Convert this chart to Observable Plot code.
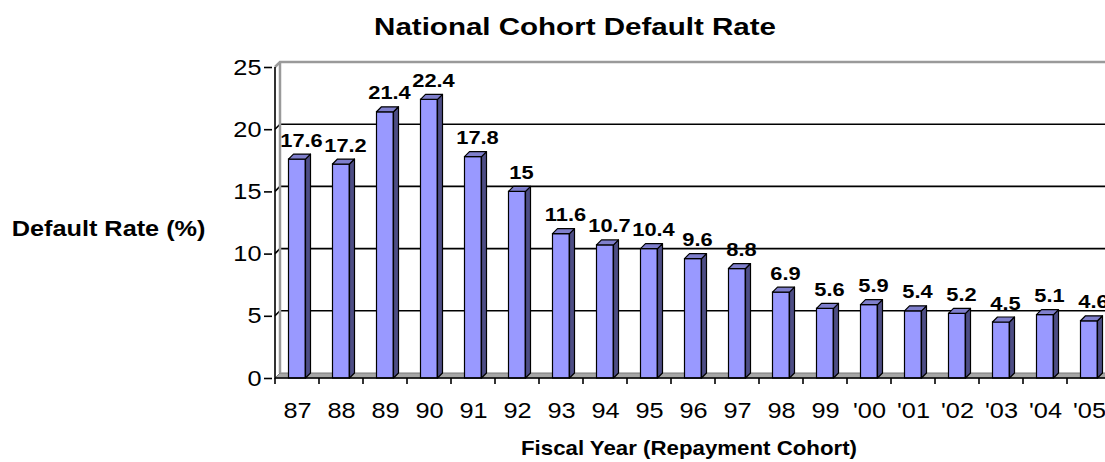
<!DOCTYPE html>
<html><head><meta charset="utf-8">
<script src="https://cdn.jsdelivr.net/npm/d3@7"></script>
<script src="https://cdn.jsdelivr.net/npm/@observablehq/plot@0.6"></script>
<style>
body{margin:0;background:#fff;width:1105px;height:462px;overflow:hidden;font-family:"Liberation Sans",Arial,sans-serif;}
.t{position:absolute;white-space:nowrap;font-weight:bold;color:#000;}
</style></head><body>
<div style="position:relative;height:50px"><span class="t" style="left:575px;top:15px;font-size:24px;line-height:24px;transform:translateX(-50%) scaleX(1.23)">National Cohort Default Rate</span></div>
<div id="chart"></div>
<div style="position:relative;height:32px"><span class="t" style="left:689px;top:7px;font-size:21px;line-height:21px;transform:translateX(-50%) scaleX(1.06)">Fiscal Year (Repayment Cohort)</span></div>
<script>
const years = ["87","88","89","90","91","92","93","94","95","96","97","98","99","'00","'01","'02","'03","'04","'05"];
const rates = [17.6,17.2,21.4,22.4,17.8,15,11.6,10.7,10.4,9.6,8.8,6.9,5.6,5.9,5.4,5.2,4.5,5.1,4.6];
const yTicks = [0,5,10,15,20,25];
const gridValues = [5,10,15,20];
const yLabel = "Default Rate (%)";

const data = years.map((year, i) => ({year, rate: rates[i]}));
const D = 5;            // 3D depth offset
const FACE_OFF = 13.5;  // front face offset within band
const FACE_W = 17;      // front face width

function bw(x) { return x.bandwidth ? x.bandwidth() : (x(years[1]) - x(years[0])); }

function walls(index, scales, values, dims) {
  const {x, y} = scales;
  const W = dims.width + 20;
  const xL = x(years[0]);
  const y0 = y(0), yT = y(yTicks[yTicks.length - 1]);
  const g = d3.create("svg:g");
  g.append("path").attr("d", `M${xL},${y0}L${xL + D},${y0 - D}L${W},${y0 - D}L${W},${y0}Z`)
    .attr("fill", "#a6a6a6").attr("stroke", "#7a7a7a").attr("stroke-width", 1);
  for (const v of gridValues) {
    g.append("path").attr("d", `M${xL},${y(v)}L${xL + D},${y(v) - D}L${W},${y(v) - D}`)
      .attr("fill", "none").attr("stroke", "#000").attr("stroke-width", 1.6);
  }
  g.append("path").attr("d", `M${xL},${yT}L${xL + D},${yT - D}L${W},${yT - D}`)
    .attr("fill", "none").attr("stroke", "#9a9a9a").attr("stroke-width", 2.5);
  g.append("path").attr("d", `M${xL + D},${y0 - D}L${xL + D},${yT - D}`)
    .attr("fill", "none").attr("stroke", "#9a9a9a").attr("stroke-width", 2.5);
  return g.node();
}

function faces(index, scales, values, dims) {
  const {x, y} = scales;
  const g = d3.create("svg:g").attr("stroke", "#000").attr("stroke-width", 1.2).attr("stroke-linejoin", "round");
  for (const d of data) {
    const x0 = x(d.year) + FACE_OFF, x1 = x0 + FACE_W;
    const yt = y(d.rate), yb = y(0);
    g.append("path").attr("d", `M${x1},${yt}L${x1 + D},${yt - D}L${x1 + D},${yb - D}L${x1},${yb}Z`).attr("fill", "#4d4d85");
    g.append("path").attr("d", `M${x0},${yt}L${x0 + D},${yt - D}L${x1 + D},${yt - D}L${x1},${yt}Z`).attr("fill", "#7f7fcc");
  }
  return g.node();
}

function axesLines(index, scales, values, dims) {
  const {x, y} = scales;
  const xL = x(years[0]);
  const b = bw(x);
  const y0 = y(0), yT = y(yTicks[yTicks.length - 1]);
  const g = d3.create("svg:g").attr("stroke", "#000").attr("stroke-width", 1.6).attr("fill", "none");
  g.append("path").attr("d", `M${xL},${yT}L${xL},${y0}L${dims.width + 20},${y0}`);
  const bounds = years.map(v => x(v)).concat([x(years[years.length - 1]) + b]);
  for (const bx of bounds) g.append("path").attr("d", `M${bx},${y0}L${bx},${y0 + 6}`);
  return g.node();
}

const svg = Plot.plot({
  width: 1105,
  height: 380,
  marginLeft: 272,
  marginRight: 0,
  marginTop: 17,
  marginBottom: 52,
  style: {fontFamily: "'Liberation Sans', Arial, sans-serif", color: "#000", background: "#fff", overflow: "hidden"},
  x: {domain: years, range: [272, 272 + 44.3 * years.length], padding: 0, label: null},
  y: {domain: [0, 25], label: null},
  marks: [
    walls,
    Plot.barY(data, {x: "year", y: "rate", fill: "#9999ff", stroke: "#000", strokeWidth: 1.2,
      insetLeft: FACE_OFF, insetRight: 44.3 - FACE_OFF - FACE_W}),
    faces,
    axesLines,
    Plot.axisY({ticks: yTicks, tickSize: 8, tickPadding: 3, fontSize: 22, strokeWidth: 1.6, label: null}),
    Plot.axisX({tickSize: 0, tickPadding: 23.4, fontSize: 22, label: null}),
    Plot.text(data, {x: "year", y: "rate", text: d => String(d.rate), dx: 4, dy: -13, lineAnchor: "bottom",
      fontSize: 19, fontWeight: "bold", fill: "#000"}),
    Plot.text([yLabel], {text: d => d, frameAnchor: "left", textAnchor: "end", dx: -67, dy: 5.8,
      fontSize: 22, fontWeight: "bold", fill: "#000"})
  ]
});

// widen glyphs horizontally about each text's own anchor point (Plot positions texts with translate())
svg.querySelectorAll("text").forEach(t => {
  const tr = t.getAttribute("transform") || "";
  t.setAttribute("transform", `${tr} scale(1.15,1)`);
});

document.getElementById("chart").append(svg);
</script>
</body></html>
